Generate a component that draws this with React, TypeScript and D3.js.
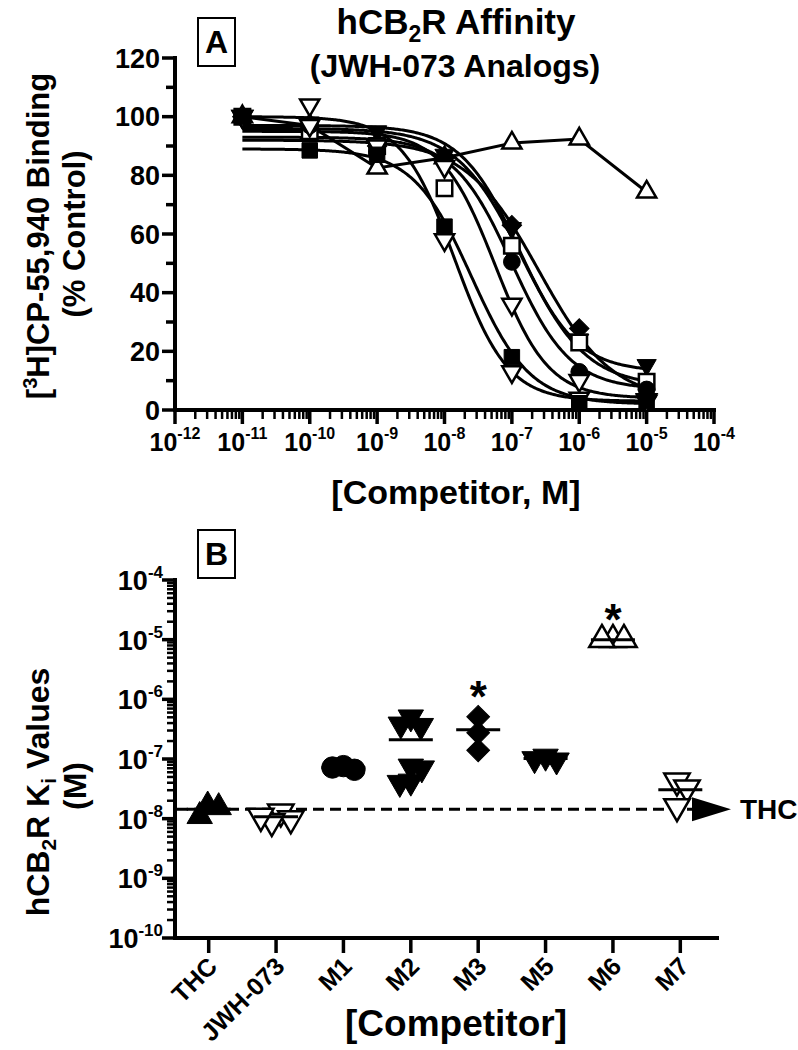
import React from "react";
import * as d3 from "d3";

// ---------------- Panel A : competition binding ----------------
const concentrations = [1e-11, 1e-10, 1e-9, 1e-8, 1e-7, 1e-6, 1e-5];
const xTickExponents = [-12, -11, -10, -9, -8, -7, -6, -5, -4];
const yTicksA = [0, 20, 40, 60, 80, 100, 120];

const compoundsA = ["M6", "M5", "M3", "M2", "M1", "M7", "JWH-073", "THC"];
const bindingM6 = [100, 97, 82.5, 86, 91, 92.4, 74.3];
const bindingM5 = [100, 98, 95, 87, 62, 24, 15.3];
const bindingM3 = [100, 96, 90, 86, 63, 27.8, 4.5];
const bindingM2 = [100, 95, 90, 75.6, 56, 23, 9.6];
const bindingM1 = [100, 97, 88, 85, 50.5, 13, 7];
const bindingM7 = [100, 97, 90, 83, 36, 10, 3.5];
const bindingJWH073 = [100, 104, 90, 58, 13, 4, 3];
const bindingTHC = [100, 88.5, 87, 62.5, 18, 2.3, 3];

// fitted one-site competition parameters (M6 not fitted: points joined)
const fitTop = [NaN, 97, 92, 96, 93, 95, 100, 89];
const fitBottom = [NaN, 13, 3, 8, 7, 4, 3, 2];
const fitLogIC50 = [NaN, -6.9, -6.6, -6.85, -7.0, -7.25, -7.85, -7.6];
const fitHill = [NaN, 1.0, 0.8, 0.9, 1.0, 1.1, 1.1, 1.0];

// ---------------- Panel B : Ki values ----------------
const categories = ["THC", "JWH-073", "M1", "M2", "M3", "M5", "M6", "M7"];
const kiTHC = [1.65e-8, 1.55e-8, 1.1e-8];
const kiJWH073 = [1.3e-8, 1.0e-8, 0.9e-8, 1.1e-8];
const kiM1 = [7.6e-8, 6.6e-8, 7.2e-8];
const kiM2 = [5.0e-7, 3.6e-7, 3.8e-7, 7.5e-8, 7.0e-8, 4.2e-8, 4.0e-8];
const kiM3 = [5.1e-7, 2.75e-7, 1.4e-7];
const kiM5 = [1.1e-7, 0.95e-7, 1.0e-7];
const kiM6 = [1e-5, 1e-5, 1e-5];
const kiM7 = [4.3e-8, 3.3e-8, 1.6e-8];
const significant = ["M3", "M6"];
const yExponentsB = [-10, -9, -8, -7, -6, -5, -4];

const FONT = "'Liberation Sans', Arial, Helvetica, sans-serif";

type MarkerDef = { shape: string; down?: boolean; filled: boolean };

function Marker({ x, y, m, size, sw }: { x: number; y: number; m: MarkerDef; size: number; sw: number }) {
  const type =
    m.shape === "circle" ? d3.symbolCircle : m.shape === "triangle" ? d3.symbolTriangle : d3.symbolSquare;
  const d = d3.symbol().type(type).size(size)() as string;
  const rot = m.shape === "diamond" ? 45 : m.down ? 180 : 0;
  return (
    <path
      d={d}
      transform={`translate(${x},${y}) rotate(${rot})`}
      fill={m.filled ? "#000" : "#fff"}
      stroke="#000"
      strokeWidth={m.filled ? 1 : sw}
      strokeLinejoin="miter"
    />
  );
}

function swarm(ys: number[], dx: number, dy: number): number[] {
  const placed: { x: number; y: number }[] = [];
  const cands: number[] = [0];
  for (let k = 1; k < 200; k++) cands.push(k, -k);
  for (const y of ys) {
    for (const c of cands) {
      const ok = placed.every((p) => ((p.x - c) / dx) ** 2 + ((p.y - y) / dy) ** 2 >= 1);
      if (ok) {
        placed.push({ x: c, y });
        break;
      }
    }
  }
  const mean = d3.mean(placed, (p) => p.x) || 0;
  return placed.map((p) => p.x - mean);
}

export default function App() {
  const W = 798;
  const H = 1050;

  // ---- Panel A scales ----
  const xA = d3.scaleLog().domain([1e-12, 1e-4]).range([175, 714]);
  const yA = d3.scaleLinear().domain([0, 120]).range([410, 58]);
  const seriesA = [bindingM6, bindingM5, bindingM3, bindingM2, bindingM1, bindingM7, bindingJWH073, bindingTHC];
  const markersA: Record<string, MarkerDef> = {
    M6: { shape: "triangle", filled: false },
    M5: { shape: "triangle", down: true, filled: true },
    M3: { shape: "diamond", filled: true },
    M2: { shape: "square", filled: false },
    M1: { shape: "circle", filled: true },
    M7: { shape: "triangle", down: true, filled: false },
    "JWH-073": { shape: "triangle", down: true, filled: false },
    THC: { shape: "square", filled: true },
  };
  const sizeA: Record<string, number> = { triangle: 160, square: 240, circle: 220, diamond: 190 };

  const logGrid = d3.range(-11, -4.999, 0.02);
  const lineA = d3
    .line<[number, number]>()
    .x((d) => xA(d[0]))
    .y((d) => yA(d[1]));

  const curvesA = compoundsA.map((name, i) => {
    if (isNaN(fitTop[i])) {
      return lineA(concentrations.map((c, j) => [c, seriesA[i][j]] as [number, number])) as string;
    }
    const pts = logGrid.map((lx) => {
      const v =
        fitBottom[i] + (fitTop[i] - fitBottom[i]) / (1 + Math.pow(10, (lx - fitLogIC50[i]) * fitHill[i]));
      return [Math.pow(10, lx), v] as [number, number];
    });
    return lineA(pts) as string;
  });

  const minorXA: number[] = [];
  for (let e = -12; e < -4; e++) for (let k = 2; k <= 9; k++) minorXA.push(k * Math.pow(10, e));
  const minorYA = d3.range(10, 120, 20);

  // ---- Panel B scales ----
  const xB = d3.scalePoint<string>().domain(categories).range([175, 714]).padding(0.5);
  const yB = d3.scaleLog().domain([1e-10, 1e-4]).range([938, 580]);
  const kiSets = [kiTHC, kiJWH073, kiM1, kiM2, kiM3, kiM5, kiM6, kiM7];
  const markersB: Record<string, MarkerDef> = {
    THC: { shape: "triangle", filled: true },
    "JWH-073": { shape: "triangle", down: true, filled: false },
    M1: { shape: "circle", filled: true },
    M2: { shape: "triangle", down: true, filled: true },
    M3: { shape: "diamond", filled: true },
    M5: { shape: "triangle", down: true, filled: true },
    M6: { shape: "triangle", filled: false },
    M7: { shape: "triangle", down: true, filled: false },
  };
  const sizeB: Record<string, number> = { triangle: 280, circle: 360, diamond: 260, square: 260 };
  const minorYB: number[] = [];
  for (let e = -10; e < -4; e++) for (let k = 2; k <= 9; k++) minorYB.push(k * Math.pow(10, e));
  const thcMean = d3.mean(kiTHC) as number;
  const yThc = yB(thcMean);

  const axisStroke = 4;

  return (
    <svg
      width={W}
      height={H}
      viewBox={`0 0 ${W} ${H}`}
      style={{ position: "absolute", left: 0, top: 0, background: "#fff" }}
      fontFamily={FONT}
      fontWeight="bold"
    >
      <rect x={0} y={0} width={W} height={H} fill="#fff" />

      {/* ===== Titles ===== */}
      <text x={456} y={34} textAnchor="middle" fontSize={35}>
        hCB<tspan fontSize={23} dy={8}>2</tspan>
        <tspan dy={-8}>R Affinity</tspan>
      </text>
      <text x={455} y={77} textAnchor="middle" fontSize={32}>
        (JWH-073 Analogs)
      </text>
      <rect x={198} y={18} width={37} height={48} fill="none" stroke="#000" strokeWidth={2} />
      <text x={216.5} y={53} textAnchor="middle" fontSize={32}>
        A
      </text>

      {/* ===== Panel A axes ===== */}
      <g stroke="#000" strokeLinecap="butt">
        <line x1={175} x2={175} y1={yA(120) - 2} y2={yA(0) + 2} strokeWidth={axisStroke} />
        <line x1={173} x2={xA(1e-4) + 2} y1={yA(0)} y2={yA(0)} strokeWidth={axisStroke} />
        {yTicksA.map((t) => (
          <line key={"ya" + t} x1={162} x2={175} y1={yA(t)} y2={yA(t)} strokeWidth={3.5} />
        ))}
        {minorYA.map((t) => (
          <line key={"yam" + t} x1={166} x2={175} y1={yA(t)} y2={yA(t)} strokeWidth={3.5} />
        ))}
        {xTickExponents.map((e) => (
          <line key={"xa" + e} x1={xA(Math.pow(10, e))} x2={xA(Math.pow(10, e))} y1={yA(0)} y2={yA(0) + 14} strokeWidth={3.5} />
        ))}
        {minorXA.map((v, i) => (
          <line key={"xam" + i} x1={xA(v)} x2={xA(v)} y1={yA(0)} y2={yA(0) + 9} strokeWidth={2.5} />
        ))}
      </g>
      {yTicksA.map((t) => (
        <text key={"yal" + t} x={160} y={yA(t) + 9.5} textAnchor="end" fontSize={27}>
          {t}
        </text>
      ))}
      {xTickExponents.map((e) => (
        <text key={"xal" + e} x={xA(Math.pow(10, e))} y={451} textAnchor="middle" fontSize={25}>
          10<tspan fontSize={16} dy={-12}>{`-${Math.abs(e)}`}</tspan>
        </text>
      ))}
      <text x={456} y={504} textAnchor="middle" fontSize={34}>
        [Competitor, M]
      </text>
      <text transform="translate(49,236) rotate(-90)" textAnchor="middle" fontSize={31}>
        [<tspan fontSize={20} dy={-12}>3</tspan>
        <tspan dy={12}>H]CP-55,940 Binding</tspan>
      </text>
      <text transform="translate(85,234) rotate(-90)" textAnchor="middle" fontSize={31}>
        (% Control)
      </text>

      {/* ===== Panel A curves & points ===== */}
      {curvesA.map((d, i) => (
        <path key={"c" + i} d={d} fill="none" stroke="#000" strokeWidth={3} />
      ))}
      {compoundsA.map((name, i) =>
        concentrations.map((c, j) => (
          <Marker
            key={name + j}
            x={xA(c)}
            y={yA(seriesA[i][j])}
            m={markersA[name]}
            size={sizeA[markersA[name].shape]}
            sw={2.5}
          />
        ))
      )}

      {/* ===== Panel B ===== */}
      <rect x={198} y={530} width={37} height={48} fill="none" stroke="#000" strokeWidth={2} />
      <text x={216.5} y={565} textAnchor="middle" fontSize={32}>
        B
      </text>

      <g stroke="#000">
        <line x1={175} x2={175} y1={yB(1e-4) - 2} y2={yB(1e-10) + 2} strokeWidth={axisStroke} />
        <line x1={173} x2={719} y1={yB(1e-10)} y2={yB(1e-10)} strokeWidth={axisStroke} />
        {yExponentsB.map((e) => (
          <line key={"yb" + e} x1={162} x2={175} y1={yB(Math.pow(10, e))} y2={yB(Math.pow(10, e))} strokeWidth={3.5} />
        ))}
        {minorYB.map((v, i) => (
          <line key={"ybm" + i} x1={167} x2={175} y1={yB(v)} y2={yB(v)} strokeWidth={2.5} />
        ))}
        {categories.map((c) => (
          <line key={"xb" + c} x1={xB(c)} x2={xB(c)} y1={yB(1e-10)} y2={yB(1e-10) + 15} strokeWidth={3.5} />
        ))}
      </g>
      {yExponentsB.map((e) => (
        <text key={"ybl" + e} x={163} y={yB(Math.pow(10, e)) + 10} textAnchor="end" fontSize={27}>
          10<tspan fontSize={17} dy={-12}>{`-${Math.abs(e)}`}</tspan>
        </text>
      ))}
      {categories.map((c) => (
        <text
          key={"xbl" + c}
          transform={`translate(${(xB(c) as number) + 10},${968}) rotate(-45)`}
          textAnchor="end"
          fontSize={25}
        >
          {c}
        </text>
      ))}
      <text x={456} y={1036} textAnchor="middle" fontSize={37}>
        [Competitor]
      </text>
      <text transform="translate(49,792) rotate(-90)" textAnchor="middle" fontSize={32}>
        hCB<tspan fontSize={21} dy={7}>2</tspan>
        <tspan dy={-7}>R K</tspan>
        <tspan fontSize={21} dy={7}>i</tspan>
        <tspan dy={-7}> Values</tspan>
      </text>
      <text transform="translate(86,786) rotate(-90)" textAnchor="middle" fontSize={32}>
        (M)
      </text>

      {/* THC reference line */}
      <line x1={177} x2={692} y1={yThc} y2={yThc} stroke="#000" strokeWidth={3} strokeDasharray="11,6" />

      {categories.map((c, gi) => {
        const vals = kiSets[gi];
        const ys = vals.map((v) => yB(v));
        const offs = swarm(ys, 11, 15);
        const mean = d3.mean(vals) as number;
        const cx = xB(c) as number;
        const m = markersB[c];
        return (
          <g key={"grp" + c}>
            {vals.map((v, k) => (
              <Marker key={c + k} x={cx + offs[k]} y={ys[k]} m={m} size={sizeB[m.shape]} sw={2.5} />
            ))}
            <line x1={cx - 22} x2={cx + 22} y1={yB(mean)} y2={yB(mean)} stroke="#000" strokeWidth={3} />
            {significant.includes(c) && (
              <text x={cx} y={(d3.min(ys) as number) - 5} textAnchor="middle" fontSize={44}>
                *
              </text>
            )}
          </g>
        );
      })}
      <path d={`M${692},${yThc - 12} L${731},${yThc} L${692},${yThc + 12} Z`} fill="#000" />
      <text x={740} y={yThc + 10} fontSize={28}>
        THC
      </text>
    </svg>
  );
}
